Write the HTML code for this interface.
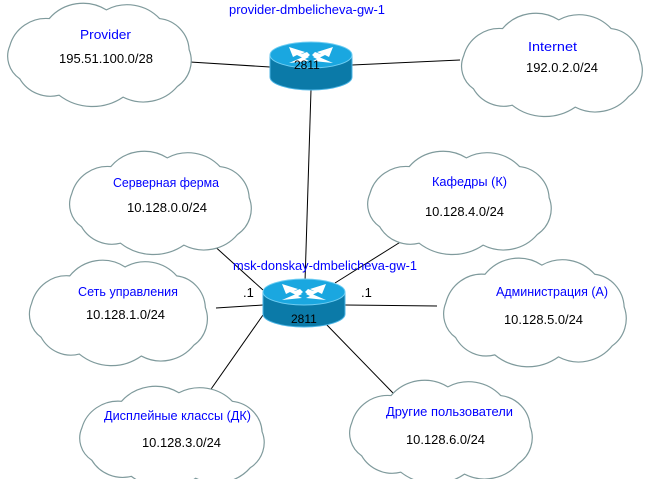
<!DOCTYPE html>
<html><head><style>
body{margin:0;background:#fff;width:649px;height:479px;overflow:hidden}
svg{display:block}
symbol,use{overflow:visible}
text{font-family:"Liberation Sans","DejaVu Sans",sans-serif}
.b{fill:#0000ff;font-size:13px}
.k{fill:#000;font-size:13px}
</style></head><body>
<svg width="649" height="479" viewBox="0 0 649 479">
<defs>
<symbol id="cl" viewBox="0 0 200 100" preserveAspectRatio="none" overflow="visible">
<path d="M20,76 A28,28 0 0 1 10,42 A38,38 0 0 1 50,14 A45,45 0 0 1 108,5 A45,45 0 0 1 162,14 A34,34 0 0 1 192,46 A32,32 0 0 1 180,84 A45,45 0 0 1 125,95 A55,55 0 0 1 60,93 A36,36 0 0 1 20,76 Z" fill="#fff" stroke="#7f9a9c" stroke-width="1.2" vector-effect="non-scaling-stroke"/>
</symbol>
<g id="rt">
<path d="M-41,0 L-41,22 A41,13 0 0 0 41,22 L41,0 Z" fill="#0b7aa8" stroke="#4db6e6" stroke-width="1"/>
<ellipse cx="0" cy="0" rx="41" ry="13" fill="#1aa7e0" stroke="#6fcdf2"/>
<g fill="#fff">
<polygon points="-22,-8 -6,-3 -10,-1 -2,2 -6,4 -14,0 -18,2"/>
<polygon points="22,-8 6,-3 10,-1 2,2 6,4 14,0 18,2"/>
<polygon points="-22,8 -8,2 -12,0 -4,-3 -1,0 -6,4 -2,6"/>
<polygon points="22,8 8,2 12,0 4,-3 1,0 6,4 2,6"/>
</g>
</g>
</defs>
<g stroke="#000" stroke-width="1">
<line x1="190" y1="62" x2="270" y2="67"/>
<line x1="352" y1="65" x2="460" y2="60"/>
<line x1="311" y1="90" x2="305" y2="282"/>
<line x1="211" y1="243" x2="263" y2="290"/>
<line x1="216" y1="308" x2="263" y2="305"/>
<line x1="263" y1="315" x2="209" y2="392"/>
<line x1="325" y1="323" x2="393" y2="393"/>
<line x1="410" y1="236" x2="335" y2="283"/>
<line x1="345" y1="305" x2="437" y2="306"/>
</g>
<use href="#cl" x="0" y="5" width="197" height="97"/>
<use href="#cl" x="454" y="15" width="194" height="97"/>
<use href="#cl" x="62" y="153" width="195" height="97"/>
<use href="#cl" x="360" y="153" width="197" height="97"/>
<use href="#cl" x="22" y="262" width="191" height="99"/>
<use href="#cl" x="436" y="260" width="196" height="102"/>
<use href="#cl" x="72" y="388" width="198" height="95"/>
<use href="#cl" x="342" y="382" width="196" height="97"/>
<use href="#rt" transform="translate(311,55)"/>
<use href="#rt" transform="translate(304,292)"/>
<text class="b" x="229" y="14" textLength="156" lengthAdjust="spacingAndGlyphs">provider-dmbelicheva-gw-1</text>
<text class="b" x="80" y="39" textLength="51" lengthAdjust="spacingAndGlyphs" style="font-size:13px">Provider</text>
<text class="k" x="59" y="63" textLength="94" lengthAdjust="spacingAndGlyphs">195.51.100.0/28</text>
<text class="b" x="528" y="51" textLength="49" lengthAdjust="spacingAndGlyphs">Internet</text>
<text class="k" x="526" y="72" textLength="72" lengthAdjust="spacingAndGlyphs">192.0.2.0/24</text>
<text class="k" x="294" y="69" style="font-size:12px">2811</text>
<text class="b" x="113" y="187" textLength="106" lengthAdjust="spacingAndGlyphs">Серверная ферма</text>
<text class="k" x="127" y="212" textLength="80" lengthAdjust="spacingAndGlyphs">10.128.0.0/24</text>
<text class="b" x="432" y="186" textLength="75" lengthAdjust="spacingAndGlyphs">Кафедры (К)</text>
<text class="k" x="425" y="216" textLength="79" lengthAdjust="spacingAndGlyphs">10.128.4.0/24</text>
<text class="b" x="233" y="270" textLength="184" lengthAdjust="spacingAndGlyphs">msk-donskay-dmbelicheva-gw-1</text>
<text class="k" x="243" y="297">.1</text>
<text class="k" x="361" y="297">.1</text>
<text class="b" x="78" y="296" textLength="100" lengthAdjust="spacingAndGlyphs">Сеть управления</text>
<text class="k" x="86" y="319" textLength="79" lengthAdjust="spacingAndGlyphs">10.128.1.0/24</text>
<text class="b" x="496" y="296" textLength="112" lengthAdjust="spacingAndGlyphs">Администрация (А)</text>
<text class="k" x="504" y="324" textLength="79" lengthAdjust="spacingAndGlyphs">10.128.5.0/24</text>
<text class="k" x="291" y="323" style="font-size:12px">2811</text>
<text class="b" x="104" y="420" textLength="147" lengthAdjust="spacingAndGlyphs">Дисплейные классы (ДК)</text>
<text class="k" x="142" y="447" textLength="79" lengthAdjust="spacingAndGlyphs">10.128.3.0/24</text>
<text class="b" x="386" y="416" textLength="127" lengthAdjust="spacingAndGlyphs">Другие пользователи</text>
<text class="k" x="406" y="444" textLength="79" lengthAdjust="spacingAndGlyphs">10.128.6.0/24</text>
</svg>
</body></html>
